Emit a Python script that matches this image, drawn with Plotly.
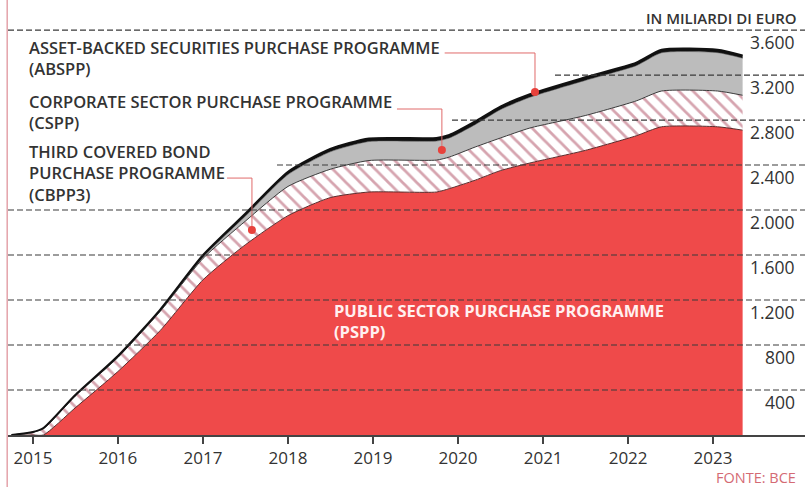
import plotly.graph_objects as go

# ---------------- data (bn EUR) ----------------
dates = ["2014-10-01", "2015-01-01", "2015-02-15", "2015-07-01", "2016-01-01",
         "2016-07-01", "2017-01-01", "2017-07-01", "2018-01-01", "2018-07-01",
         "2018-12-15", "2019-10-01", "2019-11-25", "2020-03-15", "2020-07-01",
         "2020-11-05", "2021-07-01", "2022-02-05", "2022-05-25", "2023-01-20",
         "2023-05-08"]
pspp = [0, 0, 0, 240, 564, 929, 1380, 1690, 1950, 2110, 2160, 2160, 2190, 2265,
        2350, 2418, 2530, 2660, 2740, 2740, 2710]
cbpp3 = [0, 25, 55, 105, 125, 170, 190, 210, 260, 252, 280, 284, 281, 295, 290,
         311, 310, 310, 318, 318, 310]
cspp = [0, 0, 0, 0, 0, 1, 10, 44, 105, 155, 169, 169, 169, 199, 252, 273, 312,
        313, 340, 341, 330]
abspp = [0, 2, 7, 9, 13, 15, 20, 23, 25, 25, 27, 27, 27, 28, 28, 28, 28, 27, 27,
         26, 25]

year_ticks = ["2015-01-01", "2016-01-01", "2017-01-01", "2018-01-01", "2019-01-01",
              "2020-01-01", "2021-01-01", "2022-01-01", "2023-01-01"]
year_labels = ["2015", "2016", "2017", "2018", "2019", "2020", "2021", "2022", "2023"]
y_ticks = [400, 800, 1200, 1600, 2000, 2400, 2800, 3200, 3600]
y_labels = ["400", "800", "1.200", "1.600", "2.000", "2.400", "2.800", "3.200", "3.600"]

series_names = ["PSPP", "CBPP3", "CSPP", "ABSPP"]

# ---------------- layout constants ----------------
W, H = 805, 487
ML, MR, MT, MB = 8, 0, 0, 52
PW = W - ML - MR
PH = H - MT - MB


def px_x(px):
    return (px - ML) / PW


def px_y(py):
    return (H - MB - py) / PH


RED = "#ef4a4a"
GRAY = "#bcbcbc"
TXT = "#333333"
CONN = "#e06a6a"
DOT = "#e8423c"
FONT = "Open Sans"
SMOOTH = 0.6

fig = go.Figure()

fig.add_trace(go.Scatter(x=dates, y=pspp, name=series_names[0], stackgroup="one",
                         mode="lines",
                         line=dict(color="#5a2a2a", width=1, shape="spline", smoothing=SMOOTH),
                         fillcolor=RED, hoverinfo="skip"))
fig.add_trace(go.Scatter(x=dates, y=cbpp3, name=series_names[1], stackgroup="one",
                         mode="lines",
                         line=dict(color="#3a3a3a", width=1, shape="spline", smoothing=SMOOTH),
                         fillcolor="white",
                         fillpattern=dict(shape="\\", fgcolor="#ad4a60", bgcolor="white",
                                          size=10, solidity=0.28),
                         hoverinfo="skip"))
fig.add_trace(go.Scatter(x=dates, y=cspp, name=series_names[2], stackgroup="one",
                         mode="lines",
                         line=dict(color="#555555", width=0.5, shape="spline", smoothing=SMOOTH),
                         fillcolor=GRAY, hoverinfo="skip"))
fig.add_trace(go.Scatter(x=dates, y=abspp, name=series_names[3], stackgroup="one",
                         mode="lines",
                         line=dict(color="#111111", width=2, shape="spline", smoothing=SMOOTH),
                         fillcolor="#111111", hoverinfo="skip"))

# ---------------- gridlines ----------------
grid_start_px = {2400: 277, 2800: 452, 3200: 555}
shapes = []
for v in y_ticks:
    x0 = px_x(grid_start_px.get(v, ML))
    shapes.append(dict(type="line", xref="paper", yref="y", x0=x0, x1=1, y0=v, y1=v,
                       line=dict(color="#3a3a3a", width=1.2, dash="6px,3px"),
                       layer="above"))
# left frame line
shapes.append(dict(type="line", xref="paper", yref="paper", x0=-0.001, x1=-0.001,
                   y0=px_y(H), y1=px_y(0), line=dict(color="#e4a3aa", width=1.5)))

# ---------------- connectors with dots ----------------
connectors = [
    # (x start, x end, horizontal value, dot value)
    ("2019-11-05", "2020-11-27", 3396, 3049),
    ("2019-04-14", "2019-10-24", 2898, 2533),
    ("2017-04-14", "2017-07-30", 2284, 1822),
]
for xs, xe, hv, dv in connectors:
    fig.add_trace(go.Scatter(x=[xs, xe, xe], y=[hv, hv, dv], mode="lines",
                             line=dict(color=CONN, width=1), hoverinfo="skip",
                             showlegend=False))
    fig.add_trace(go.Scatter(x=[xe], y=[dv], mode="markers",
                             marker=dict(color=DOT, size=8), hoverinfo="skip",
                             showlegend=False))

# ---------------- annotations ----------------
ann = []
for v, lab in zip(y_ticks, y_labels):
    ann.append(dict(xref="paper", yref="y", x=px_x(797), y=v, yshift=-12,
                    xanchor="right", yanchor="middle", showarrow=False, text=lab,
                    font=dict(family=FONT, size=17.5, color=TXT)))

label_blocks = [
    ("ASSET-BACKED SECURITIES PURCHASE PROGRAMME<br>(ABSPP)", 57.5),
    ("CORPORATE SECTOR PURCHASE PROGRAMME<br>(CSPP)", 112.5),
    ("THIRD COVERED BOND<br>PURCHASE PROGRAMME<br>(CBPP3)", 173.5),
]
for txt, cy in label_blocks:
    ann.append(dict(xref="paper", yref="paper", x=px_x(27), y=px_y(cy),
                    xanchor="left", yanchor="middle", align="left", showarrow=False,
                    text=txt, font=dict(family=FONT, size=16.5, color=TXT, weight=600)))

ann.append(dict(xref="paper", yref="paper", x=px_x(332), y=px_y(321),
                xanchor="left", yanchor="middle", align="left", showarrow=False,
                text="PUBLIC SECTOR PURCHASE PROGRAMME<br>(PSPP)",
                font=dict(family=FONT, size=16.5, color="#fff0f0", weight=700)))

ann.append(dict(xref="paper", yref="paper", x=px_x(799), y=px_y(18),
                xanchor="right", yanchor="middle", showarrow=False,
                text="IN MILIARDI DI EURO",
                font=dict(family=FONT, size=15, color=TXT, weight=600)))
ann.append(dict(xref="paper", yref="paper", x=px_x(798), y=px_y(478),
                xanchor="right", yanchor="middle", showarrow=False,
                text="FONTE: BCE",
                font=dict(family=FONT, size=14.5, color="#d46a74")))

fig.update_layout(
    width=W, height=H,
    margin=dict(l=ML, r=MR, t=MT, b=MB, pad=0),
    paper_bgcolor="white", plot_bgcolor="white",
    showlegend=False,
    shapes=shapes,
    annotations=ann,
    xaxis=dict(type="date", range=["2014-09-16", "2024-01-31"],
               tickvals=year_ticks, ticktext=year_labels,
               showgrid=False, zeroline=False,
               showline=True, linecolor="#444444", linewidth=1.5,
               ticks="outside", ticklen=7, tickcolor="#444444", tickwidth=1.5,
               tickfont=dict(family=FONT, size=17, color=TXT)),
    yaxis=dict(range=[0, 3867], visible=False, fixedrange=True),
)

fig.write_html("out.html")
